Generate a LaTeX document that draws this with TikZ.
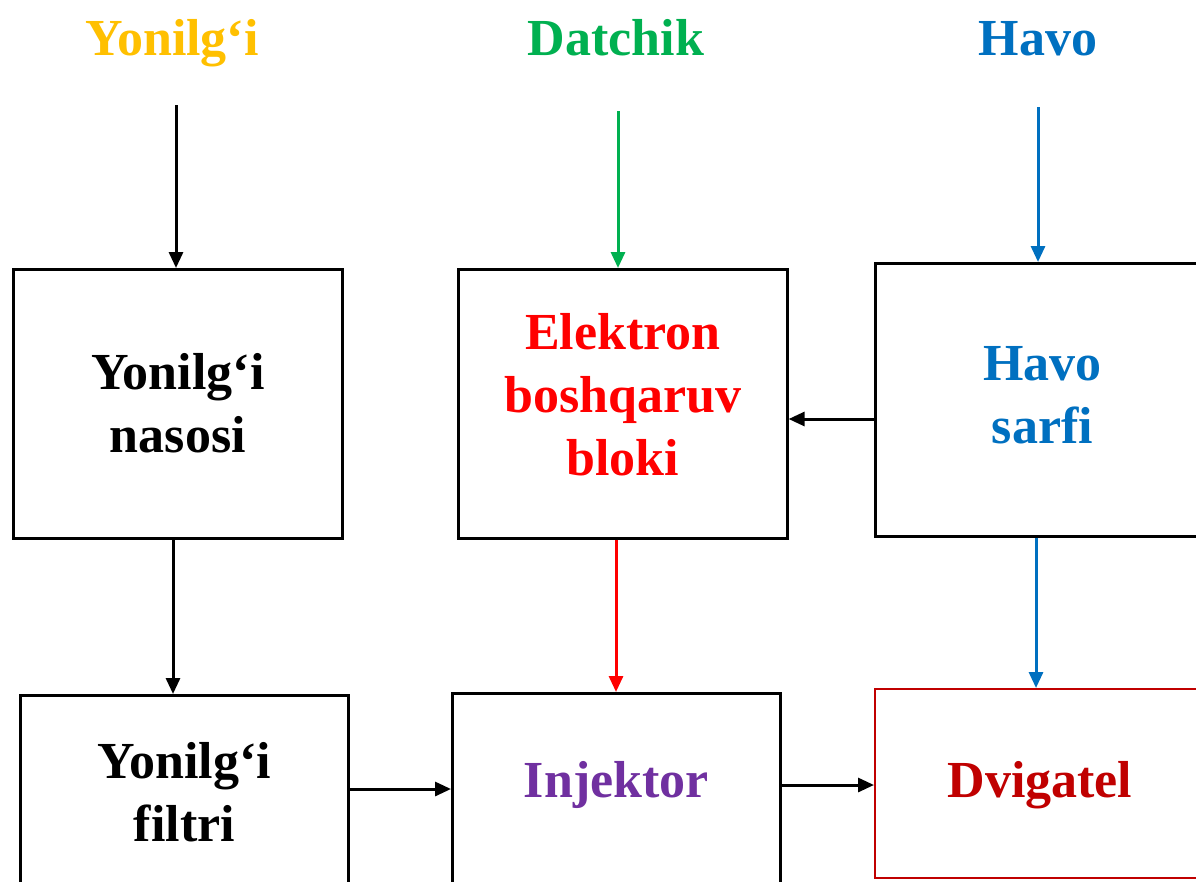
\documentclass[tikz,border=0pt]{standalone}
\usepackage{fontspec}
\setmainfont{Liberation Serif}
\usetikzlibrary{arrows.meta}
\definecolor{cgold}{HTML}{FFC000}
\definecolor{cgreen}{HTML}{00B050}
\definecolor{cblue}{HTML}{0070C0}
\definecolor{cred}{HTML}{FF0000}
\definecolor{cdred}{HTML}{C00000}
\definecolor{cpurple}{HTML}{7030A0}
\begin{document}
\begin{tikzpicture}[x=1pt,y=-1pt,
  box/.style={draw=black,line width=2.6pt,anchor=north west,inner sep=0pt},
  lbl/.style={inner sep=0pt,align=center,font=\fontsize{52}{63}\selectfont\bfseries},
  title/.style={font=\fontsize{52}{63}\selectfont\bfseries,inner sep=0pt,anchor=base},
  conn/.style={line width=3pt,-{Triangle[length=16pt,width=14pt]}}]
\useasboundingbox (0,0) rectangle (1196,881);
\clip (0,0) rectangle (1196,881);
\fill[white] (0,0) rectangle (1196,881);
% titles
\node[title,text=cgold] (t1) at (172,55) {Yonilg‘i};
\node[title,text=cgreen] (t2) at (616,55) {Datchik};
\node[title,text=cblue] (t3) at (1038,55) {Havo};
\coordinate (s1) at (176,105);
\coordinate (s2) at (618,111);
\coordinate (s3) at (1038,107);
% boxes
\node[box,minimum width=329pt,minimum height=269pt] (nas) at (12,268) {};
\node[box,minimum width=329pt,minimum height=269pt] (ebb) at (457,268) {};
\node[box,minimum width=334pt,minimum height=273pt] (hav) at (874,262) {};
\node[box,minimum width=328pt,minimum height=196pt] (fil) at (19,694) {};
\node[box,minimum width=328pt,minimum height=198pt] (inj) at (451,692) {};
\node[box,draw=cdred,line width=2pt,minimum width=330pt,minimum height=189pt] (dvi) at (874,688) {};
% labels
\node[lbl] (nasl) at ([yshift=1pt]nas.center) {Yonilg‘i\\nasosi};
\node[lbl,text=cred] (ebbl) at ([yshift=9pt]ebb.center) {Elektron\\boshqaruv\\bloki};
\node[lbl,text=cblue] (havl) at ([yshift=5pt]hav.center) {Havo\\sarfi};
\node[lbl] (fill) at ([yshift=1pt]fil.center) {Yonilg‘i\\filtri};
\node[lbl,text=cpurple] (injl) at ([yshift=7pt]inj.center) {Injektor};
\node[lbl,text=cdred] (dvil) at ([yshift=-2pt]dvi.center) {Dvigatel};
% connectors
\draw[conn] (s1) -- (s1 |- nas.north);
\draw[conn,cgreen] (s2) -- (s2 |- ebb.north);
\draw[conn,cblue] (s3) -- (s3 |- hav.north);
\draw[conn] (hav.west |- 0,419) -- (ebb.east |- 0,419);
\draw[conn] (173,0 |- nas.south) -- (173,0 |- fil.north);
\draw[conn,cred] (616,0 |- ebb.south) -- (616,0 |- inj.north);
\draw[conn,cblue] (1036,0 |- hav.south) -- (1036,0 |- dvi.north);
\draw[conn] (fil.east |- 0,789) -- (inj.west |- 0,789);
\draw[conn] (inj.east |- 0,785) -- (dvi.west |- 0,785);
\end{tikzpicture}
\end{document}
